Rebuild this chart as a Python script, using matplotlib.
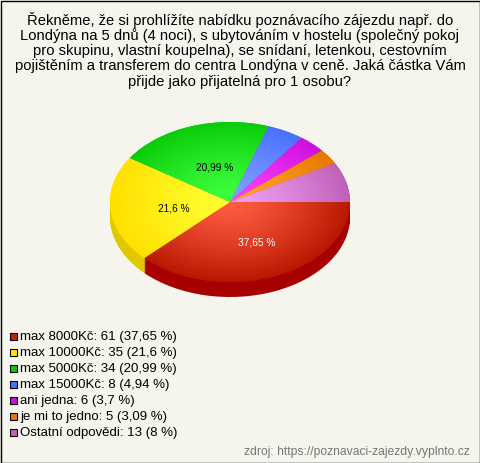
import numpy as np
from matplotlib import pyplot as plt
from matplotlib.colors import to_rgb

plt.rcParams['font.family'] = ['Liberation Sans', 'DejaVu Sans']

title_lines = [
    "Řekněme, že si prohlížíte nabídku poznávacího zájezdu např. do",
    "Londýna na 5 dnů (4 noci), s ubytováním v hostelu (společný pokoj",
    "pro skupinu, vlastní koupelna), se snídaní, letenkou, cestovním",
    "pojištěním a transferem do centra Londýna v ceně. Jaká částka Vám",
    "přijde jako přijatelná pro 1 osobu?",
]
categories = ["max 8000Kč", "max 10000Kč", "max 5000Kč", "max 15000Kč",
              "ani jedna", "je mi to jedno", "Ostatní odpovědi"]
counts = [61, 35, 34, 8, 6, 5, 13]
percent_labels = ["37,65", "21,6", "20,99", "4,94", "3,7", "3,09", "8"]

bg = "#f5f5ee"
edge_colors = ["#b81800", "#ffe000", "#0acc0a", "#4a70ff", "#cc10dd", "#e87800", "#c060b8"]
center_colors = ["#ff5c40", "#ffff30", "#40ff40", "#80a0ff", "#ff40ff", "#ffa428", "#f0a0f0"]
side_colors = ["#a80000", "#e0c800", "#0a9a0a", "#3050c0", "#9a10a8", "#b05a00", "#905088"]
legend_colors = ["#c42000", "#ffe600", "#0cc80c", "#4a70ff", "#cc10dd", "#e87800", "#c060b8"]

fig = plt.figure(figsize=(4.8, 4.63), dpi=100, facecolor=bg)

# pie axes fill the figure, 1 unit = 120px across and 80px down, that gives the ellipse
ax = fig.add_axes([0, 0, 1, 1])
depth = 15

for k in range(depth, 0, -1):
    side, _ = ax.pie(counts, colors=side_colors, startangle=0, counterclock=False,
                     center=(0, -k / 80))
    for w in side:
        w.set_zorder(1)

wedges, _, autotexts = ax.pie(counts, colors=edge_colors, startangle=0, counterclock=False,
                              autopct=lambda p: f"{round(p, 2):g} %".replace(".", ",") if p > 15 else "",
                              pctdistance=0.5, textprops={"fontsize": 7.3})

yy, xx = np.mgrid[-1:1:300j, -1:1:300j]
rr = np.clip(np.sqrt(xx ** 2 + yy ** 2), 0, 1)[..., None] ** 1.3
for w, c0, c1 in zip(wedges, center_colors, edge_colors):
    w.set_zorder(2)
    img = np.array(to_rgb(c0)) * (1 - rr) + np.array(to_rgb(c1)) * rr
    im = ax.imshow(img, extent=(-1, 1, -1, 1), origin="lower", aspect="auto", zorder=3)
    im.set_clip_path(w)

for t, col in zip(autotexts, ["white", "black", "black", "black", "black", "black", "black"]):
    t.set_color(col)
    t.set_zorder(4)
    x, y = t.get_position()
    t.set_position((x + 4 / 120, y - 3 / 80))

ax.set_aspect("auto")
ax.set_xlim(-230 / 120, 250 / 120)
ax.set_ylim((202 - 463) / 80, 202 / 80)
ax.axis("off")

# overlay in pixels for the texts, legend and border
over = fig.add_axes([0, 0, 1, 1])
over.set_xlim(0, 480)
over.set_ylim(463, 0)
over.axis("off")
over.patch.set_alpha(0)

for i, line in enumerate(title_lines):
    over.text(240, 20 + i * 15.4, line, ha="center", va="center", fontsize=10.6, color="black")

for i, (cat, n, p, col) in enumerate(zip(categories, counts, percent_labels, legend_colors)):
    y = 336.7 + i * 16
    over.add_patch(plt.Rectangle((9.5, y - 3.5), 7, 7, facecolor=col, edgecolor="black", linewidth=0.8))
    over.text(20, y, f"{cat}: {n} ({p} %)", ha="left", va="center", fontsize=9.5, color="black")

over.text(470, 452, "zdroj: https://poznavaci-zajezdy.vyplnto.cz", ha="right", va="center",
          fontsize=8.7, color="#777777")

over.add_patch(plt.Rectangle((0.5, 0.5), 479, 462, fill=False, edgecolor="black", linewidth=1))

plt.savefig("out.png", facecolor=bg)
plt.close()
